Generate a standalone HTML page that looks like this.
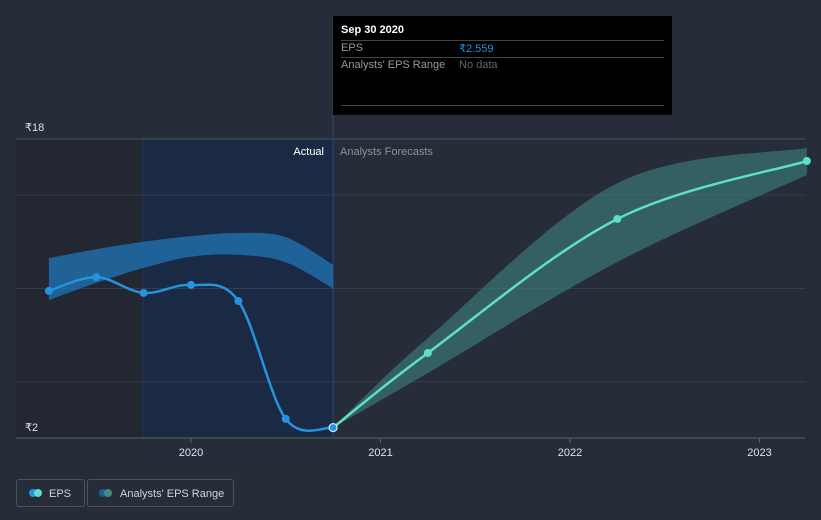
<!DOCTYPE html>
<html><head><meta charset="utf-8"><style>
body{margin:0;background:#262d39;width:821px;height:520px;overflow:hidden;font-family:"Liberation Sans",sans-serif}
svg{position:absolute;left:0;top:0}
.tt{position:absolute;left:333px;top:16px;width:339px;height:99px;background:#000;color:#fff;font-size:11px}
.leg{position:absolute;top:479px;height:28px;border:1px solid #4a5160;border-radius:3px;color:#d0d3d8;font-size:11px;line-height:28px;box-sizing:border-box}
</style></head><body>
<svg width="821" height="520" id="chart"></svg>
<div class="tt">
 <div style="position:absolute;left:8px;top:8px;font-weight:bold">Sep 30 2020</div>
 <div style="position:absolute;left:8px;right:8px;top:24px;border-top:1px solid #444"></div>
 <div style="position:absolute;left:8px;top:26px;color:#999">EPS</div>
 <div style="position:absolute;left:126px;top:26px;color:#2394df">₹2.559</div>
 <div style="position:absolute;left:8px;right:8px;top:41px;border-top:1px solid #444"></div>
 <div style="position:absolute;left:8px;top:43px;color:#999">Analysts' EPS Range</div>
 <div style="position:absolute;left:126px;top:43px;color:#666">No data</div>
 <div style="position:absolute;left:8px;right:8px;top:89px;border-top:1px solid #444"></div>
</div>
<div class="leg" style="left:16px;width:69px">
 <span style="position:absolute;left:12px;top:9px;width:8px;height:8px;border-radius:50%;background:#2394df"></span>
 <span style="position:absolute;left:17px;top:9px;width:8px;height:8px;border-radius:50%;background:#5ee0c8"></span>
 <span style="position:absolute;left:32px">EPS</span></div>
<div class="leg" style="left:87px;width:147px">
 <span style="position:absolute;left:11px;top:9px;width:8px;height:8px;border-radius:50%;background:#1f5f92"></span>
 <span style="position:absolute;left:16px;top:9px;width:8px;height:8px;border-radius:50%;background:#3f8b86"></span>
 <span style="position:absolute;left:32px">Analysts' EPS Range</span></div>
<script>
const yTicks=[18,15,10,5,2];
const yLabels=["₹18","₹2"];
const xTicks=[2020,2021,2022,2023];
const epsX=[2019.25,2019.5,2019.75,2020,2020.25,2020.5,2020.75];
const epsY=[9.87,10.61,9.76,10.19,9.33,3.02,2.559];
const fcX=[2020.75,2021.25,2022.25,2023.25];
const fcY=[2.559,6.55,13.72,16.82];
const pastRangeX=[2019.25,2019.5,2019.75,2020,2020.25,2020.5,2020.75];
const pastHigh=[11.63,12.1,12.5,12.8,12.97,12.75,11.26];
const pastLow=[9.38,10.3,11.1,11.7,11.8,11.4,10.0];
const fcRangeX=[2020.75,2021.25,2022.25,2023.25];
const fcHigh=[2.559,7.35,15.64,17.52];
const fcLow=[2.559,5.48,11.42,16.07];
const X=t=>191+(t-2020)*189.5;
const Y=v=>438-(v-2)*18.69;
const NS="http://www.w3.org/2000/svg";
const svg=document.getElementById('chart');
function mk(tag,attrs,name){const e=document.createElementNS(NS,tag);for(const k in attrs)e.setAttribute(k,attrs[k]);


svg.appendChild(e);return e;}
function curve(xs,ys,move){let p=move?`M${X(xs[0])},${Y(ys[0])}`:`L${X(xs[0])},${Y(ys[0])}`;
const P=xs.map((x,i)=>[X(x),Y(ys[i])]);
for(let i=0;i<P.length-1;i++){const p0=P[i-1]||P[i],p1=P[i],p2=P[i+1],p3=P[i+2]||P[i+1];
const c1=[p1[0]+(p2[0]-p0[0])/6,p1[1]+(p2[1]-p0[1])/6],c2=[p2[0]-(p3[0]-p1[0])/6,p2[1]-(p3[1]-p1[1])/6];
p+=`C${c1[0]},${c1[1]} ${c2[0]},${c2[1]} ${p2[0]},${p2[1]}`;}return p;}
function band(xs,hi,lo){return curve(xs,hi,true)+curve(xs.slice().reverse(),lo.slice().reverse(),false)+'Z';}
mk('rect',{x:16,y:139,width:127,height:299,fill:'#222731'},'past-shade');
mk('rect',{x:143,y:139,width:X(2020.75)-143,height:299,fill:'#1a2a44'},'actual-shade');
mk('line',{x1:143,x2:143,y1:139,y2:438,stroke:'#1e3556'},'shade-divider');
yTicks.forEach(v=>{mk('line',{x1:16,x2:805,y1:Y(v),y2:Y(v),stroke:v==2?'#5a606b':(v==18?'#4a505b':'#363d49'),'stroke-width':1},'gridline-'+v);});
mk('line',{x1:X(2020.75),x2:X(2020.75),y1:16,y2:438,stroke:'#2a4a78'},'today-line');
const yl1=mk('text',{x:25,y:131,fill:'#e0e2e6','font-size':11},'y-label-top');yl1.textContent=yLabels[0];
const yl2=mk('text',{x:25,y:431,fill:'#e0e2e6','font-size':11},'y-label-bottom');yl2.textContent=yLabels[1];
xTicks.forEach(t=>{mk('line',{x1:X(t),x2:X(t),y1:438,y2:443,stroke:'#5a606b'},'x-tick-'+t);
const e=mk('text',{x:X(t),y:456,fill:'#e0e2e6','font-size':11,'text-anchor':'middle'},'x-label-'+t);e.textContent=t;});
const a=mk('text',{x:324,y:155,fill:'#fff','font-size':11,'text-anchor':'end'},'actual-label');a.textContent='Actual';
const f=mk('text',{x:340,y:155,fill:'#8a919c','font-size':11},'forecast-label');f.textContent='Analysts Forecasts';
mk('path',{d:band(pastRangeX,pastHigh,pastLow),fill:'#2170b0',opacity:0.8},'past-range-band');
mk('path',{d:band(fcRangeX,fcHigh,fcLow),fill:'#3f8b86',opacity:0.55},'forecast-range-band');
mk('path',{d:curve(epsX,epsY,true),fill:'none',stroke:'#2394df','stroke-width':2.5},'eps-line');
mk('path',{d:curve(fcX,fcY,true),fill:'none',stroke:'#5ee0c8','stroke-width':2.5},'forecast-line');
epsX.forEach((x,i)=>{const last=i==epsX.length-1;mk('circle',{cx:X(x),cy:Y(epsY[i]),r:4,fill:'#2394df',stroke:last?'#d8e8f8':'none','stroke-width':1.2},'eps-point-'+i);});
fcX.forEach((x,i)=>{if(i>0)mk('circle',{cx:X(x),cy:Y(fcY[i]),r:4,fill:'#5ee0c8'},'forecast-point-'+i);});
</script>
</body></html>
